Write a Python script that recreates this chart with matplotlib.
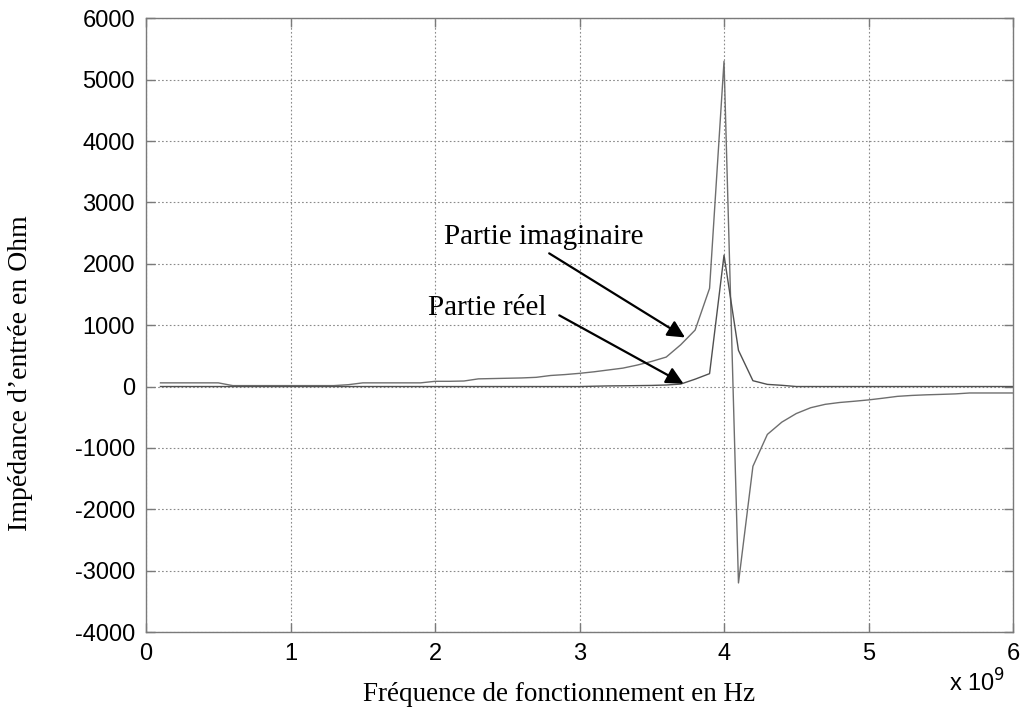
import numpy as np
import matplotlib
matplotlib.use("Agg")
import matplotlib.pyplot as plt

# frequency in units of 1e9 Hz
freq = [0.1, 0.2, 0.3, 0.4, 0.5, 0.6, 0.7, 0.8, 0.9, 1.0,
        1.1, 1.2, 1.3, 1.4, 1.5, 1.6, 1.7, 1.8, 1.9, 2.0,
        2.1, 2.2, 2.3, 2.4, 2.5, 2.6, 2.7, 2.8, 2.9, 3.0,
        3.1, 3.2, 3.3, 3.4, 3.5, 3.6, 3.7, 3.8, 3.9, 4.0,
        4.1, 4.2, 4.3, 4.4, 4.5, 4.6, 4.7, 4.8, 4.9, 5.0,
        5.1, 5.2, 5.3, 5.4, 5.5, 5.6, 5.7, 5.8, 5.9, 6.0]

imag_part = [60, 60, 60, 60, 60, 15, 15, 15, 15, 15,
             15, 15, 15, 30, 60, 60, 60, 60, 60, 85,
             85, 90, 125, 130, 135, 140, 150, 180, 195, 215,
             240, 270, 300, 350, 410, 480, 680, 920, 1600, 5300,
             -3200, -1300, -780, -580, -440, -345, -290, -260, -240, -218,
             -190, -160, -145, -135, -128, -120, -105, -105, -105, -105]

real_part = [0, 0, 0, 0, 0, 0, 0, 0, 0, 0,
             0, 0, 0, 0, 0, 0, 0, 0, 0, 0,
             0, 0, 0, 0, 0, 0, 0, 0, 0, 0,
             5, 10, 12, 15, 18, 25, 40, 120, 210, 2140,
             590, 95, 35, 20, 0, 0, 0, 0, 0, 0,
             0, 0, 0, 0, 0, 0, 0, 0, 0, 0]

x_ticks = [0, 1, 2, 3, 4, 5, 6]
y_ticks = [-4000, -3000, -2000, -1000, 0, 1000, 2000, 3000, 4000, 5000, 6000]

plt.rcParams["axes.unicode_minus"] = False

line_col = "#6e6e6e"
axis_col = "#7a7a7a"

fig = plt.figure(figsize=(10.22, 7.17), dpi=100)
ax = fig.add_axes([0.1429, 0.1185, 0.8483, 0.856])

ax.plot(freq, imag_part, color=line_col, lw=1.0)
ax.plot(freq, real_part, color="#505050", lw=1.0)

ax.set_xlim(0, 6)
ax.set_ylim(-4000, 6000)
ax.set_xticks(x_ticks)
ax.set_yticks(y_ticks)
ax.grid(True, linestyle=(0, (1.5, 2)), color="#8a8a8a", lw=0.8)

for s in ax.spines.values():
    s.set_color(axis_col)
    s.set_linewidth(1.0)
ax.tick_params(direction="in", length=6.5, width=1.0, color=axis_col,
               top=True, right=True, labelsize=17, pad=8)
for lbl in ax.get_xticklabels() + ax.get_yticklabels():
    lbl.set_fontfamily("Liberation Sans")

serif = "Liberation Serif"
ax.set_xlabel("Fréquence de fonctionnement en Hz", fontfamily=serif,
              fontsize=19.5)
ax.xaxis.set_label_coords(0.4765, -0.082)
ax.set_ylabel("Impédance d\u2019entrée en Ohm", fontfamily=serif,
              fontsize=20)
ax.yaxis.set_label_coords(-0.130, 0.422)
ax.text(0.991, -0.083, r"x 10$^{9}$", transform=ax.transAxes, ha="right",
        va="center", fontsize=17, fontfamily="Liberation Sans")

arrow = dict(arrowstyle="-|>", color="black", lw=1.6, mutation_scale=26,
             shrinkA=0, shrinkB=0)
ax.annotate("", xy=(3.73, 800), xytext=(2.79, 2170), arrowprops=arrow)
ax.annotate("", xy=(3.72, 45), xytext=(2.86, 1160), arrowprops=arrow)
ax.text(2.06, 2330, "Partie imaginaire", fontfamily=serif, fontsize=21,
        va="baseline")
ax.text(1.95, 1160, "Partie réel", fontfamily=serif, fontsize=21,
        va="baseline")

fig.savefig("out.png", dpi=100)
